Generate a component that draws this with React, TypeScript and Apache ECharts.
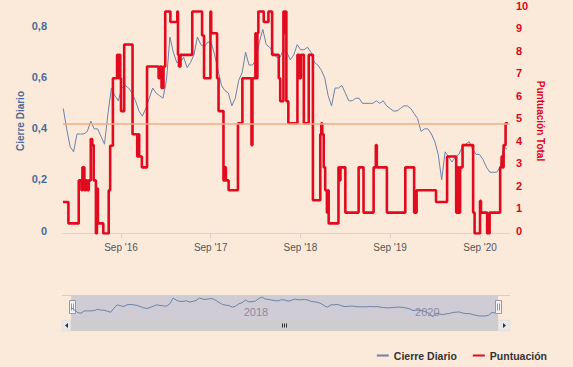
import React, { useEffect, useRef } from 'react';
import * as echarts from 'echarts';

// ---- data ----
const CLOSE_START = '2016-01-10';
const CLOSE_STEP_DAYS = 14;
const closeValues: number[] = [
  0.49, 0.41, 0.34, 0.32, 0.39, 0.39, 0.39, 0.40, 0.44, 0.41,
  0.41, 0.38, 0.35, 0.47, 0.57, 0.54, 0.52, 0.57, 0.58, 0.57,
  0.55, 0.52, 0.48, 0.46, 0.49, 0.53, 0.57, 0.55, 0.54, 0.53,
  0.60, 0.77, 0.71, 0.67, 0.67, 0.69, 0.65, 0.67, 0.70, 0.77,
  0.74, 0.73, 0.75, 0.75, 0.70, 0.64, 0.58, 0.56, 0.55, 0.50,
  0.53, 0.60, 0.63, 0.71, 0.66, 0.66, 0.68, 0.75, 0.80, 0.74,
  0.73, 0.71, 0.69, 0.69, 0.72, 0.71, 0.68, 0.70, 0.74, 0.72,
  0.72, 0.73, 0.71, 0.67, 0.66, 0.64, 0.61, 0.54, 0.50, 0.57,
  0.57, 0.58, 0.55, 0.52, 0.52, 0.53, 0.53, 0.51, 0.51, 0.51,
  0.51, 0.52, 0.51, 0.52, 0.50, 0.49, 0.48, 0.48, 0.49, 0.50,
  0.50, 0.49, 0.47, 0.45, 0.40, 0.41, 0.41, 0.39, 0.36, 0.31,
  0.21, 0.32, 0.30, 0.28, 0.30, 0.31, 0.34, 0.35, 0.36, 0.33,
  0.31, 0.31, 0.29, 0.26, 0.24, 0.24, 0.24, 0.26, 0.34, 0.33,
];

const scoreDates: string[] = [
  '2016-01-09', '2016-01-31', '2016-03-13', '2016-03-24', '2016-03-28', '2016-04-05', '2016-04-11', '2016-04-17',
  '2016-04-23', '2016-05-01', '2016-05-07', '2016-05-13', '2016-05-22', '2016-05-26', '2016-05-30', '2016-06-21',
  '2016-07-13', '2016-07-19', '2016-07-30', '2016-08-16', '2016-08-21', '2016-08-25', '2016-08-29', '2016-09-01',
  '2016-09-14', '2016-10-18', '2016-11-06', '2016-11-10', '2016-11-14', '2016-11-25', '2016-12-16',
  '2017-02-01', '2017-02-07', '2017-02-13', '2017-02-21', '2017-02-28', '2017-03-21', '2017-04-18', '2017-04-21',
  '2017-04-25', '2017-05-01', '2017-06-18', '2017-07-28', '2017-08-05', '2017-08-31', '2017-09-03', '2017-09-27',
  '2017-10-03', '2017-10-23', '2017-10-29', '2017-11-02', '2017-11-13', '2017-12-21',
  '2018-01-08', '2018-02-14', '2018-02-18', '2018-03-02', '2018-03-06', '2018-03-10', '2018-03-14', '2018-04-05',
  '2018-04-24', '2018-05-09', '2018-06-05', '2018-06-11', '2018-06-24', '2018-06-28', '2018-07-02', '2018-07-06',
  '2018-07-14', '2018-08-20', '2018-08-28', '2018-09-03', '2018-09-15', '2018-10-05', '2018-10-22', '2018-11-21',
  '2018-11-25', '2018-11-29', '2018-12-05', '2018-12-11', '2018-12-18', '2018-12-22', '2018-12-25',
  '2019-02-03', '2019-02-07', '2019-02-11', '2019-03-03', '2019-04-26', '2019-05-16', '2019-06-26', '2019-07-05',
  '2019-07-09', '2019-08-19', '2019-11-02', '2019-12-08', '2019-12-12', '2019-12-14', '2019-12-18',
  '2020-03-06', '2020-04-20', '2020-05-27', '2020-06-02', '2020-06-06', '2020-06-12', '2020-06-22', '2020-08-04',
  '2020-08-10', '2020-09-01', '2020-09-05', '2020-09-30', '2020-10-10', '2020-11-22', '2020-11-28', '2020-12-02',
  '2020-12-06', '2020-12-14', '2020-12-24',
];
const scoreValues: number[] = [
  1.40, 0.45, 2.36, 1.92, 2.94, 1.92, 2.36, 1.92,
  2.36, 4.20, 3.93, 2.36, 0.00, 2.00, 0.45, 0.00,
  1.92, 3.90, 6.90, 7.94, 6.90, 7.94, 6.90, 5.44,
  8.40, 4.41, 3.42, 4.41, 3.42, 2.94, 7.42,
  6.90, 7.42, 6.47, 7.42, 9.87, 9.40, 9.87, 7.94,
  7.42, 7.94, 9.87, 8.80, 6.90, 9.87, 8.90, 6.90,
  5.44, 2.36, 2.94, 2.36, 1.92, 4.90,
  6.90, 3.93, 6.90, 8.90, 6.90, 8.90, 9.87, 9.40,
  9.87, 7.94, 6.90, 5.88, 9.87, 8.90, 9.87, 5.88,
  4.90, 7.94, 6.90, 7.94, 4.90, 7.94, 1.48, 4.41,
  4.90, 4.41, 2.94, 1.92, 0.93, 1.92, 0.45,
  2.94, 2.36, 2.94, 0.93, 2.94, 0.93, 2.94, 3.93,
  2.94, 0.93, 2.94, 0.93, 1.92, 0.93, 1.92,
  1.40, 3.42, 0.93, 2.94, 0.93, 2.94, 3.93, 0.93,
  0.00, 1.45, 0.93, 0.00, 0.93, 2.94, 3.42, 2.94,
  3.93, 4.90, 4.90,
];

const xTickDates = ['2016-09-01', '2017-09-01', '2018-09-01', '2019-09-01', '2020-09-01'];
const navigatorTickDates = ['2018-01-01', '2020-01-01'];
const leftTickValues = [0, 0.2, 0.4, 0.6, 0.8];
const referenceLevel = 0.43;
const X_START = '2016-01-09';
const X_END = '2021-01-01';

const BG = '#fbeada';
const BLUE = '#6a83aa';
const RED = '#e20a1e';
const AXIS_BLUE = '#4a6a97';
const AXIS_RED = '#d8061d';
const FONT = '"Liberation Sans", Arial, sans-serif';

function toTime(s: string): number {
  const [y, m, d] = s.split('-').map(Number);
  return new Date(y, m - 1, d).getTime();
}

export default function App() {
  const ref = useRef<HTMLDivElement>(null);

  useEffect(() => {
    document.body.style.margin = '0';
    if (!ref.current) return;
    const chart = echarts.init(ref.current, null, { renderer: 'svg' });

    const [sy, sm, sd] = CLOSE_START.split('-').map(Number);
    const closeData = closeValues.map((v, i) => [
      new Date(sy, sm - 1, sd + i * CLOSE_STEP_DAYS).getTime(),
      v,
    ]);
    const scoreData = scoreDates.map((d, i) => [toTime(d), scoreValues[i]]);
    const xMin = toTime(X_START);
    const xMax = toTime(X_END);

    const option: any = {
      animation: false,
      backgroundColor: BG,
      textStyle: { fontFamily: FONT },
      grid: [
        { left: 63, top: 6.5, width: 447, height: 227, containLabel: false },
        {
          left: 71, top: 295, width: 427, height: 25, containLabel: false,
          show: true, backgroundColor: '#cfccd5', borderWidth: 0,
        },
      ],
      legend: {
        data: ['Cierre Diario', 'Puntuación'],
        right: 26,
        top: 350,
        padding: 0,
        icon: 'rect',
        itemWidth: 12,
        itemHeight: 2,
        itemGap: 16,
        textStyle: { fontSize: 10.5, fontWeight: 'bold', color: '#333333', fontFamily: FONT },
      },
      xAxis: [
        {
          type: 'value',
          gridIndex: 0,
          min: xMin,
          max: xMax,
          axisLine: { show: true, lineStyle: { color: '#dcd3ca', width: 1 } },
          axisTick: {
            show: true,
            customValues: xTickDates.map(toTime),
            length: 5,
            lineStyle: { color: '#dcd3ca' },
          },
          axisLabel: {
            customValues: xTickDates.map(toTime),
            formatter: (v: number) => "Sep '" + String(new Date(v).getFullYear()).slice(2),
            color: '#555555',
            fontSize: 10,
            margin: 9,
          },
          splitLine: { show: false },
        },
        {
          type: 'value',
          gridIndex: 1,
          min: xMin,
          max: xMax,
          axisLine: { show: false },
          axisTick: { show: false },
          splitLine: { show: false },
          axisLabel: {
            customValues: navigatorTickDates.map(toTime),
            formatter: (v: number) => String(new Date(v).getFullYear()),
            inside: true,
            align: 'left',
            padding: [0, 0, 0, 3],
            margin: 3,
            color: '#8e8a9d',
            fontSize: 11,
          },
        },
      ],
      yAxis: [
        {
          type: 'value',
          gridIndex: 0,
          position: 'left',
          min: 0,
          max: 0.8816,
          axisLine: { show: false },
          axisTick: { show: false },
          splitLine: { show: false },
          axisLabel: {
            customValues: leftTickValues,
            formatter: (v: number) => (v === 0 ? '0' : v.toFixed(1).replace('.', ',')),
            color: AXIS_BLUE,
            fontWeight: 'bold',
            fontSize: 11,
            margin: 16,
            verticalAlign: 'bottom',
            lineHeight: 6,
          },
          name: 'Cierre Diario',
          nameLocation: 'middle',
          nameRotate: 90,
          nameGap: 38,
          nameMoveOverlap: false,
          nameTextStyle: { color: AXIS_BLUE, fontWeight: 'bold', fontSize: 10 },
        },
        {
          type: 'value',
          gridIndex: 0,
          position: 'right',
          min: 0,
          max: 10,
          interval: 1,
          axisLine: { show: false },
          axisTick: { show: false },
          splitLine: { show: false },
          axisLabel: {
            color: AXIS_RED,
            fontWeight: 'bold',
            fontSize: 11,
            margin: 6,
            verticalAlign: 'bottom',
            lineHeight: 6,
          },
          name: 'Puntuación Total',
          nameLocation: 'middle',
          nameRotate: -90,
          nameGap: 25,
          nameMoveOverlap: false,
          nameTextStyle: { color: AXIS_RED, fontWeight: 'bold', fontSize: 10 },
        },
        {
          type: 'value',
          gridIndex: 1,
          min: 0.12,
          max: 0.86,
          show: false,
          splitLine: { show: false },
        },
      ],
      series: [
        {
          name: 'Cierre Diario',
          type: 'line',
          xAxisIndex: 0,
          yAxisIndex: 0,
          data: closeData,
          showSymbol: false,
          symbol: 'none',
          lineStyle: { color: BLUE, width: 1 },
          itemStyle: { color: BLUE },
          z: 2,
          markLine: {
            silent: true,
            symbol: ['none', 'none'],
            label: { show: false },
            lineStyle: { color: '#f1ab82', width: 1.5, type: 'solid' },
            data: [{ yAxis: referenceLevel }],
          },
        },
        {
          name: 'Puntuación',
          type: 'line',
          step: 'end',
          xAxisIndex: 0,
          yAxisIndex: 1,
          data: scoreData,
          showSymbol: false,
          symbol: 'none',
          lineStyle: { color: RED, width: 2.6 },
          itemStyle: { color: RED },
          z: 3,
        },
        {
          name: 'Navegador',
          type: 'line',
          xAxisIndex: 1,
          yAxisIndex: 2,
          data: closeData,
          showSymbol: false,
          symbol: 'none',
          silent: true,
          lineStyle: { color: BLUE, width: 1 },
          itemStyle: { color: BLUE },
        },
      ],
      graphic: [
        { type: 'line', silent: true, shape: { x1: 62, y1: 295.5, x2: 510, y2: 295.5 }, style: { stroke: '#d8cec5', lineWidth: 1 } },
        // scrollbar
        { type: 'rect', silent: true, shape: { x: 62, y: 320, width: 9, height: 11 }, style: { fill: '#e8e8e8', stroke: '#d6d6d6', lineWidth: 0.5 } },
        { type: 'rect', silent: true, shape: { x: 498, y: 320, width: 12, height: 11 }, style: { fill: '#e8e8e8', stroke: '#d6d6d6', lineWidth: 0.5 } },
        { type: 'rect', silent: true, shape: { x: 71, y: 320, width: 427, height: 11 }, style: { fill: '#cdcdcd' } },
        { type: 'polygon', silent: true, shape: { points: [[65, 325.5], [68, 323], [68, 328]] }, style: { fill: '#333333' } },
        { type: 'polygon', silent: true, shape: { points: [[506, 325.5], [503, 323], [503, 328]] }, style: { fill: '#333333' } },
        { type: 'line', silent: true, shape: { x1: 282.5, y1: 323.5, x2: 282.5, y2: 327.5 }, style: { stroke: '#333333', lineWidth: 1 } },
        { type: 'line', silent: true, shape: { x1: 284.5, y1: 323.5, x2: 284.5, y2: 327.5 }, style: { stroke: '#333333', lineWidth: 1 } },
        { type: 'line', silent: true, shape: { x1: 286.5, y1: 323.5, x2: 286.5, y2: 327.5 }, style: { stroke: '#333333', lineWidth: 1 } },
        // navigator handles
        { type: 'rect', silent: true, shape: { x: 69.5, y: 300.5, width: 6, height: 13 }, style: { fill: '#f2f2f2', stroke: '#999999', lineWidth: 1 } },
        { type: 'line', silent: true, shape: { x1: 71.5, y1: 303.5, x2: 71.5, y2: 310.5 }, style: { stroke: '#999999', lineWidth: 1 } },
        { type: 'line', silent: true, shape: { x1: 73.5, y1: 303.5, x2: 73.5, y2: 310.5 }, style: { stroke: '#999999', lineWidth: 1 } },
        { type: 'rect', silent: true, shape: { x: 495.5, y: 300.5, width: 6, height: 13 }, style: { fill: '#f2f2f2', stroke: '#999999', lineWidth: 1 } },
        { type: 'line', silent: true, shape: { x1: 497.5, y1: 303.5, x2: 497.5, y2: 310.5 }, style: { stroke: '#999999', lineWidth: 1 } },
        { type: 'line', silent: true, shape: { x1: 499.5, y1: 303.5, x2: 499.5, y2: 310.5 }, style: { stroke: '#999999', lineWidth: 1 } },
      ],
    };

    chart.setOption(option);
    return () => chart.dispose();
  }, []);

  return <div ref={ref} style={{ width: 573, height: 367, background: BG }} />;
}
